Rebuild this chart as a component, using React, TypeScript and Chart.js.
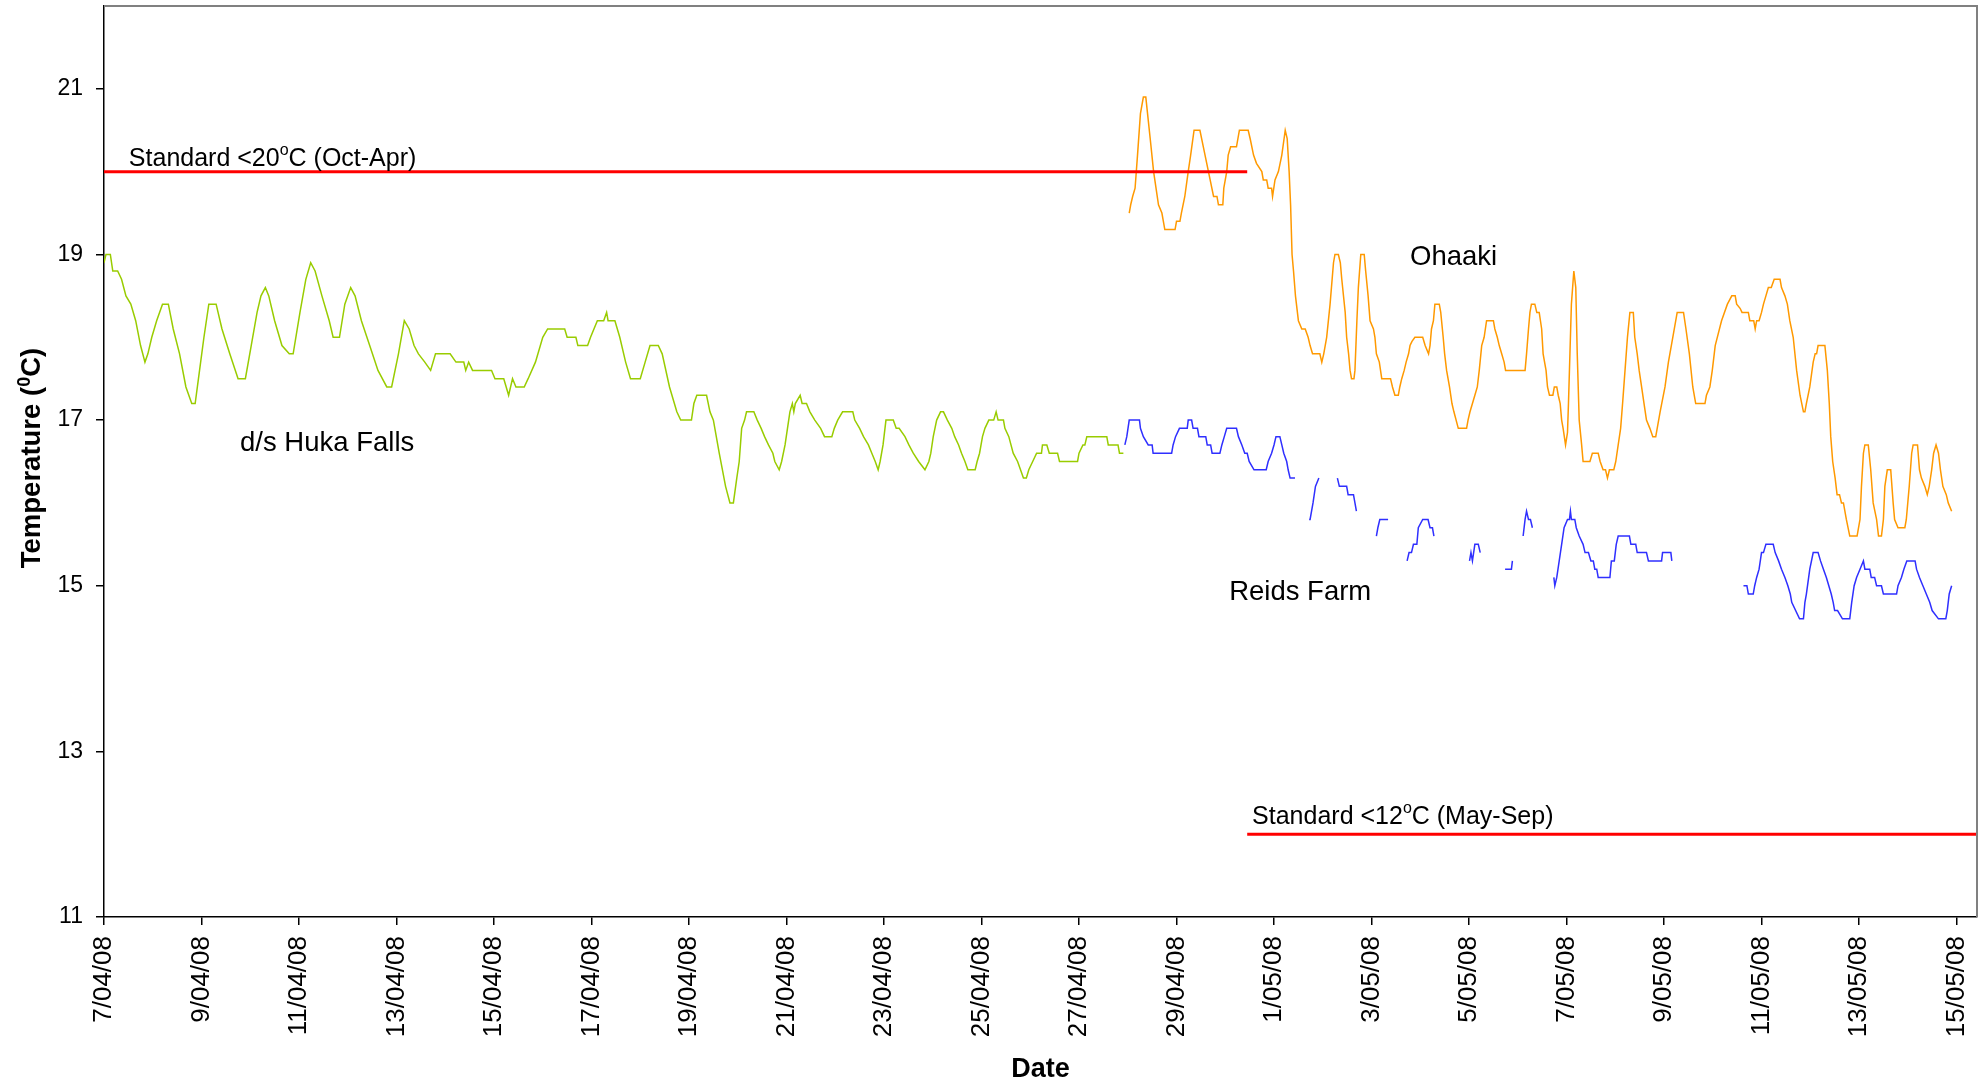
import React, { useEffect, useRef } from "react";
import { Chart, registerables } from "chart.js";

Chart.register(...registerables);

const FONT = '"Liberation Sans", Arial, Helvetica, sans-serif';

// x positions are days since 7/04/08 00:00
const X_MIN = 0;
const X_MAX = 38.42;

const tickDays = [0, 2, 4, 6, 8, 10, 12, 14, 16, 18, 20, 22, 24, 26, 28, 30, 32, 34, 36, 38];
const tickLabels = [
  "7/04/08", "9/04/08", "11/04/08", "13/04/08", "15/04/08", "17/04/08", "19/04/08",
  "21/04/08", "23/04/08", "25/04/08", "27/04/08", "29/04/08", "1/05/08", "3/05/08",
  "5/05/08", "7/05/08", "9/05/08", "11/05/08", "13/05/08", "15/05/08",
];
const tempTicks = [11, 13, 15, 17, 19, 21];

// d/s Huka Falls
const hukaDays = [
  0.0, 0.04, 0.13, 0.18, 0.28, 0.36, 0.45, 0.55, 0.65, 0.75, 0.84, 0.9, 0.98, 1.08, 1.2, 1.32,
  1.42, 1.55, 1.68, 1.8, 1.87, 1.96, 2.05, 2.15, 2.3, 2.42, 2.58, 2.75, 2.9, 3.02, 3.14, 3.22,
  3.31, 3.38, 3.5, 3.65, 3.8, 3.88, 4.02, 4.14, 4.24, 4.33, 4.47, 4.62, 4.7, 4.83, 4.94, 5.06,
  5.15, 5.28, 5.45, 5.62, 5.8, 5.9, 6.04, 6.16, 6.26, 6.36, 6.45, 6.58, 6.7, 6.8, 7.1, 7.22,
  7.38, 7.42, 7.48, 7.56, 7.95, 8.02, 8.2, 8.3, 8.38, 8.45, 8.62, 8.7, 8.85, 9.0, 9.1, 9.45,
  9.5, 9.68, 9.72, 9.92, 9.98, 10.12, 10.25, 10.31, 10.34, 10.48, 10.58, 10.7, 10.8, 11.0, 11.1, 11.2,
  11.37, 11.45, 11.6, 11.75, 11.83, 12.05, 12.1, 12.16, 12.36, 12.43, 12.5, 12.62, 12.75, 12.84, 12.91, 12.98,
  13.03, 13.08, 13.14, 13.18, 13.33, 13.4, 13.48, 13.55, 13.63, 13.72, 13.76, 13.85, 13.9, 13.97, 14.02, 14.07,
  14.12, 14.15, 14.18, 14.28, 14.32, 14.41, 14.48, 14.58, 14.7, 14.78, 14.93, 14.98, 15.05, 15.15, 15.36, 15.4,
  15.5, 15.58, 15.68, 15.75, 15.82, 15.88, 15.92, 15.98, 16.04, 16.19, 16.25, 16.31, 16.43, 16.51, 16.6, 16.71,
  16.84, 16.92, 16.96, 17.01, 17.08, 17.16, 17.22, 17.3, 17.39, 17.45, 17.53, 17.59, 17.66, 17.72, 17.87, 17.91,
  17.96, 18.02, 18.07, 18.15, 18.25, 18.3, 18.34, 18.45, 18.48, 18.56, 18.65, 18.74, 18.8, 18.86, 18.92, 18.97,
  19.05, 19.13, 19.23, 19.25, 19.34, 19.39, 19.56, 19.6, 19.97, 20.0, 20.08, 20.12, 20.16, 20.57, 20.6, 20.8,
  20.83, 20.91,
];
const hukaTemps = [
  18.9, 19.0, 19.0, 18.8, 18.8, 18.7, 18.5, 18.4, 18.2, 17.9, 17.7, 17.8, 18.0, 18.2, 18.4, 18.4,
  18.1, 17.8, 17.4, 17.2, 17.2, 17.6, 18.0, 18.4, 18.4, 18.1, 17.8, 17.5, 17.5, 17.9, 18.3, 18.5,
  18.6, 18.5, 18.2, 17.9, 17.8, 17.8, 18.3, 18.7, 18.9, 18.8, 18.5, 18.2, 18.0, 18.0, 18.4, 18.6,
  18.5, 18.2, 17.9, 17.6, 17.4, 17.4, 17.8, 18.2, 18.1, 17.9, 17.8, 17.7, 17.6, 17.8, 17.8, 17.7,
  17.7, 17.6, 17.7, 17.6, 17.6, 17.5, 17.5, 17.3, 17.5, 17.4, 17.4, 17.5, 17.7, 18.0, 18.1, 18.1,
  18.0, 18.0, 17.9, 17.9, 18.0, 18.2, 18.2, 18.3, 18.2, 18.2, 18.0, 17.7, 17.5, 17.5, 17.7, 17.9,
  17.9, 17.8, 17.4, 17.1, 17.0, 17.0, 17.2, 17.3, 17.3, 17.1, 17.0, 16.6, 16.2, 16.0, 16.0, 16.3,
  16.5, 16.9, 17.0, 17.1, 17.1, 17.0, 16.9, 16.8, 16.7, 16.6, 16.5, 16.4, 16.5, 16.7, 16.9, 17.1,
  17.2, 17.1, 17.2, 17.3, 17.2, 17.2, 17.1, 17.0, 16.9, 16.8, 16.8, 16.9, 17.0, 17.1, 17.1, 17.0,
  16.9, 16.8, 16.7, 16.6, 16.5, 16.4, 16.5, 16.7, 17.0, 17.0, 16.9, 16.9, 16.8, 16.7, 16.6, 16.5,
  16.4, 16.5, 16.6, 16.8, 17.0, 17.1, 17.1, 17.0, 16.9, 16.8, 16.7, 16.6, 16.5, 16.4, 16.4, 16.5,
  16.6, 16.8, 16.9, 17.0, 17.0, 17.1, 17.0, 17.0, 16.9, 16.8, 16.6, 16.5, 16.4, 16.3, 16.3, 16.4,
  16.5, 16.6, 16.6, 16.7, 16.7, 16.6, 16.6, 16.5, 16.5, 16.6, 16.7, 16.7, 16.8, 16.8, 16.7, 16.7,
  16.6, 16.6,
];

// Ohaaki
const ohaakiDays = [
  21.03, 21.06, 21.1, 21.15, 21.2, 21.26, 21.32, 21.37, 21.46, 21.53, 21.63, 21.7, 21.76, 21.97, 22.0, 22.07,
  22.1, 22.17, 22.24, 22.29, 22.36, 22.48, 22.55, 22.62, 22.69, 22.76, 22.83, 22.86, 22.95, 22.97, 23.03, 23.06,
  23.11, 23.23, 23.29, 23.47, 23.51, 23.58, 23.64, 23.75, 23.78, 23.85, 23.88, 23.95, 23.97, 24.02, 24.09, 24.16,
  24.23, 24.27, 24.31, 24.34, 24.37, 24.4, 24.44, 24.5, 24.57, 24.64, 24.7, 24.74, 24.79, 24.94, 24.98, 25.02,
  25.08, 25.15, 25.22, 25.25, 25.32, 25.36, 25.39, 25.46, 25.49, 25.53, 25.56, 25.59, 25.64, 25.66, 25.7, 25.73,
  25.78, 25.85, 25.88, 25.93, 25.97, 26.04, 26.07, 26.1, 26.16, 26.21, 26.39, 26.43, 26.48, 26.55, 26.58, 26.62,
  26.67, 26.71, 26.76, 26.79, 26.83, 26.89, 27.05, 27.1, 27.17, 27.2, 27.23, 27.27, 27.3, 27.39, 27.42, 27.47,
  27.5, 27.54, 27.6, 27.65, 27.69, 27.78, 27.95, 27.98, 28.02, 28.07, 28.12, 28.17, 28.21, 28.26, 28.31, 28.36,
  28.5, 28.53, 28.58, 28.62, 28.67, 28.72, 28.75, 29.15, 29.18, 29.22, 29.25, 29.28, 29.35, 29.39, 29.44, 29.49,
  29.52, 29.58, 29.61, 29.65, 29.72, 29.75, 29.8, 29.83, 29.87, 29.9, 29.93, 29.98, 30.02, 30.04, 30.07, 30.1,
  30.15, 30.19, 30.22, 30.26, 30.31, 30.34, 30.48, 30.53, 30.65, 30.69, 30.75, 30.8, 30.84, 30.88, 30.97, 31.01,
  31.06, 31.11, 31.15, 31.2, 31.25, 31.3, 31.37, 31.4, 31.45, 31.49, 31.54, 31.59, 31.64, 31.71, 31.77, 31.83,
  31.86, 31.92, 32.02, 32.09, 32.18, 32.27, 32.4, 32.45, 32.52, 32.59, 32.65, 32.84, 32.87, 32.94, 32.99, 33.05,
  33.18, 33.3, 33.39, 33.46, 33.49, 33.56, 33.6, 33.73, 33.76, 33.84, 33.87, 33.9, 33.95, 34.0, 34.04, 34.09,
  34.14, 34.2, 34.26, 34.38, 34.41, 34.48, 34.53, 34.58, 34.65, 34.72, 34.79, 34.86, 34.89, 34.92, 34.99, 35.06,
  35.1, 35.13, 35.16, 35.3, 35.35, 35.39, 35.42, 35.46, 35.51, 35.55, 35.6, 35.64, 35.68, 35.74, 35.81, 35.96,
  36.02, 36.05, 36.09, 36.12, 36.19, 36.24, 36.29, 36.36, 36.4, 36.46, 36.5, 36.53, 36.58, 36.65, 36.7, 36.73,
  36.8, 36.94, 36.97, 37.03, 37.08, 37.11, 37.2, 37.24, 37.28, 37.35, 37.4, 37.44, 37.49, 37.53, 37.58, 37.63,
  37.67, 37.72, 37.79, 37.83, 37.9,
];
const ohaakiTemps = [
  19.5, 19.6, 19.7, 19.8, 20.2, 20.7, 20.9, 20.9, 20.4, 20.0, 19.6, 19.5, 19.3, 19.3, 19.4, 19.4,
  19.5, 19.7, 20.0, 20.2, 20.5, 20.5, 20.3, 20.1, 19.9, 19.7, 19.7, 19.6, 19.6, 19.8, 20.0, 20.2,
  20.3, 20.3, 20.5, 20.5, 20.4, 20.2, 20.1, 20.0, 19.9, 19.9, 19.8, 19.8, 19.7, 19.9, 20.0, 20.2,
  20.5, 20.4, 20.0, 19.6, 19.0, 18.8, 18.5, 18.2, 18.1, 18.1, 18.0, 17.9, 17.8, 17.8, 17.7, 17.8,
  18.0, 18.4, 18.9, 19.0, 19.0, 18.9, 18.7, 18.3, 18.0, 17.8, 17.6, 17.5, 17.5, 17.6, 18.2, 18.6,
  19.0, 19.0, 18.8, 18.5, 18.2, 18.1, 18.0, 17.8, 17.7, 17.5, 17.5, 17.4, 17.3, 17.3, 17.4, 17.5,
  17.6, 17.7, 17.8, 17.9, 17.95, 18.0, 18.0, 17.9, 17.8, 17.9, 18.1, 18.2, 18.4, 18.4, 18.3, 18.0,
  17.8, 17.6, 17.4, 17.2, 17.1, 16.9, 16.9, 17.0, 17.1, 17.2, 17.3, 17.4, 17.6, 17.9, 18.0, 18.2,
  18.2, 18.1, 18.0, 17.9, 17.8, 17.7, 17.6, 17.6, 17.8, 18.1, 18.3, 18.4, 18.4, 18.3, 18.3, 18.1,
  17.8, 17.6, 17.4, 17.3, 17.3, 17.4, 17.4, 17.3, 17.2, 17.0, 16.9, 16.7, 16.85, 17.2, 17.8, 18.4,
  18.8, 18.6, 17.8, 17.0, 16.7, 16.5, 16.5, 16.6, 16.6, 16.5, 16.4, 16.4, 16.3, 16.4, 16.4, 16.5,
  16.7, 16.9, 17.2, 17.6, 18.0, 18.3, 18.3, 18.0, 17.8, 17.6, 17.4, 17.2, 17.0, 16.9, 16.8, 16.8,
  16.9, 17.1, 17.4, 17.7, 18.0, 18.3, 18.3, 18.1, 17.8, 17.4, 17.2, 17.2, 17.3, 17.4, 17.6, 17.9,
  18.2, 18.4, 18.5, 18.5, 18.4, 18.35, 18.3, 18.3, 18.2, 18.2, 18.1, 18.2, 18.2, 18.3, 18.4, 18.5,
  18.6, 18.6, 18.7, 18.7, 18.6, 18.5, 18.4, 18.2, 18.0, 17.6, 17.3, 17.1, 17.1, 17.2, 17.4, 17.7,
  17.8, 17.8, 17.9, 17.9, 17.6, 17.2, 16.8, 16.5, 16.3, 16.1, 16.1, 16.0, 16.0, 15.8, 15.6, 15.6,
  15.8, 16.2, 16.6, 16.7, 16.7, 16.4, 16.0, 15.8, 15.6, 15.6, 15.8, 16.2, 16.4, 16.4, 16.0, 15.8,
  15.7, 15.7, 15.8, 16.2, 16.6, 16.7, 16.7, 16.4, 16.3, 16.2, 16.1, 16.2, 16.4, 16.6, 16.7, 16.6,
  16.4, 16.2, 16.1, 16.0, 15.9,
];

// Reids Farm (null marks a gap in the logger record)
const reidsDays = [
  20.94, 20.98, 21.03, 21.24, 21.26, 21.32, 21.42, 21.5, 21.52, 21.9, 21.93, 21.98, 22.06, 22.22, 22.24, 22.31,
  22.34, 22.43, 22.46, 22.6, 22.63, 22.7, 22.73, 22.89, 22.93, 22.98, 23.03, 23.23, 23.27, 23.34, 23.4, 23.45,
  23.49, 23.59, 23.84, 23.88, 23.95, 24.0, 24.04, 24.12, 24.16, 24.2, 24.26, 24.29, 24.33, 24.43, 24.58,
  24.72, 24.74, 24.8, 24.85, 24.92, 25.1,
  25.3, 25.34, 25.49, 25.52, 25.63, 25.66, 25.69, 25.9,
  26.1, 26.13, 26.17, 26.21, 26.34, 26.5,
  26.73, 26.77, 26.82, 26.86, 26.93, 26.96, 27.05, 27.16, 27.2, 27.25, 27.28, 27.6,
  28.01, 28.04, 28.07, 28.12, 28.19, 28.23, 28.5,
  28.74, 28.87, 28.89, 29.0,
  29.11, 29.15, 29.18, 29.22, 29.26, 29.3, 29.5,
  29.74, 29.76, 29.8, 29.85, 29.9, 29.95, 30.02, 30.06, 30.08, 30.1, 30.17, 30.2, 30.26, 30.34, 30.38, 30.45,
  30.5, 30.55, 30.58, 30.62, 30.65, 30.89, 30.92, 30.98, 31.02, 31.06, 31.29, 31.32, 31.42, 31.45, 31.64, 31.68,
  31.95, 31.97, 32.14, 32.16, 32.9,
  33.63, 33.7, 33.73, 33.83, 33.86, 33.9, 33.95, 34.0, 34.04, 34.09, 34.24, 34.28, 34.35, 34.41, 34.48, 34.54,
  34.59, 34.62, 34.78, 34.86, 34.89, 34.92, 34.99, 35.06, 35.16, 35.21, 35.27, 35.33, 35.38, 35.43, 35.47, 35.5,
  35.56, 35.66, 35.81, 35.85, 35.9, 35.95, 36.02, 36.09, 36.12, 36.22, 36.25, 36.32, 36.36, 36.46, 36.5, 36.77,
  36.8, 36.87, 36.92, 36.98, 37.15, 37.18, 37.24, 37.31, 37.38, 37.45, 37.5, 37.63, 37.78, 37.81, 37.85, 37.9,
];
const reidsTemps = [
  16.7, 16.8, 17.0, 17.0, 16.9, 16.8, 16.7, 16.7, 16.6, 16.6, 16.7, 16.8, 16.9, 16.9, 17.0, 17.0,
  16.9, 16.9, 16.8, 16.8, 16.7, 16.7, 16.6, 16.6, 16.7, 16.8, 16.9, 16.9, 16.8, 16.7, 16.6, 16.6,
  16.5, 16.4, 16.4, 16.5, 16.6, 16.7, 16.8, 16.8, 16.7, 16.6, 16.5, 16.4, 16.3, 16.3, null,
  15.8, 15.8, 16.0, 16.2, 16.3, null,
  16.3, 16.2, 16.2, 16.1, 16.1, 16.0, 15.9, null,
  15.6, 15.7, 15.8, 15.8, 15.8, null,
  15.3, 15.4, 15.4, 15.5, 15.5, 15.7, 15.8, 15.8, 15.7, 15.7, 15.6, null,
  15.3, 15.4, 15.3, 15.5, 15.5, 15.4, null,
  15.2, 15.2, 15.3, null,
  15.6, 15.8, 15.9, 15.8, 15.8, 15.7, null,
  15.1, 15.0, 15.1, 15.3, 15.5, 15.7, 15.8, 15.8, 15.9, 15.8, 15.8, 15.7, 15.6, 15.5, 15.4, 15.4,
  15.3, 15.3, 15.2, 15.2, 15.1, 15.1, 15.3, 15.3, 15.5, 15.6, 15.6, 15.5, 15.5, 15.4, 15.4, 15.3,
  15.3, 15.4, 15.4, 15.3, null,
  15.0, 15.0, 14.9, 14.9, 15.0, 15.1, 15.2, 15.4, 15.4, 15.5, 15.5, 15.4, 15.3, 15.2, 15.1, 15.0,
  14.9, 14.8, 14.6, 14.6, 14.8, 14.9, 15.2, 15.4, 15.4, 15.3, 15.2, 15.1, 15.0, 14.9, 14.8, 14.7,
  14.7, 14.6, 14.6, 14.8, 15.0, 15.1, 15.2, 15.3, 15.2, 15.2, 15.1, 15.1, 15.0, 15.0, 14.9, 14.9,
  15.0, 15.1, 15.2, 15.3, 15.3, 15.2, 15.1, 15.0, 14.9, 14.8, 14.7, 14.6, 14.6, 14.7, 14.9, 15.0,
];

// Water temperature standards: summer limit runs to the end of April, winter limit from May
const SEASON_SWITCH = 23.45;
const summerStdDays = [X_MIN, SEASON_SWITCH];
const summerStdTemps = [20, 20];
const winterStdDays = [SEASON_SWITCH, X_MAX];
const winterStdTemps = [12, 12];

// Text placed inside the plot: anchor given in axis units (day, °C) of the left baseline
const standardNotes = [
  { lead: "Standard <20", sup: "o", tail: "C (Oct-Apr)", day: 0.51, temp: 20, lift: 6 },
  { lead: "Standard <12", sup: "o", tail: "C (May-Sep)", day: 23.55, temp: 12, lift: 10 },
];
const siteNotes = [
  { text: "d/s Huka Falls", day: 2.79, temp: 16.63 },
  { text: "Ohaaki", day: 26.79, temp: 18.87 },
  { text: "Reids Farm", day: 23.08, temp: 14.83 },
];

const toPoints = (days: number[], temps: (number | null)[]) =>
  days.map((d, i) => ({ x: d, y: temps[i] }));

type Run = { text: string; size: number; bold?: boolean; rise?: number };

function drawRuns(ctx: CanvasRenderingContext2D, runs: Run[], x: number, y: number, center: boolean) {
  const fontOf = (r: Run) => `${r.bold ? "bold " : ""}${r.size}px ${FONT}`;
  let total = 0;
  for (const r of runs) {
    ctx.font = fontOf(r);
    total += ctx.measureText(r.text).width;
  }
  let cx = center ? x - total / 2 : x;
  ctx.textAlign = "left";
  ctx.textBaseline = "alphabetic";
  for (const r of runs) {
    ctx.font = fontOf(r);
    ctx.fillText(r.text, cx, y - (r.rise || 0));
    cx += ctx.measureText(r.text).width;
  }
}

const decorations = {
  id: "decorations",
  afterDraw(chart: any) {
    const { ctx, chartArea: a, scales } = chart;
    const xs = scales.x;
    const ys = scales.y;
    ctx.save();

    // plot frame on the top and right
    ctx.strokeStyle = "#808080";
    ctx.lineWidth = 2;
    ctx.beginPath();
    ctx.moveTo(a.left, a.top);
    ctx.lineTo(a.right, a.top);
    ctx.lineTo(a.right, a.bottom);
    ctx.stroke();

    ctx.fillStyle = "#000";
    for (const n of standardNotes) {
      const px = xs.getPixelForValue(n.day);
      const py = ys.getPixelForValue(n.temp) - n.lift;
      drawRuns(ctx, [
        { text: n.lead, size: 25 },
        { text: n.sup, size: 16, rise: 11 },
        { text: n.tail, size: 25 },
      ], px, py, false);
    }
    for (const n of siteNotes) {
      drawRuns(ctx, [{ text: n.text, size: 27.5 }], xs.getPixelForValue(n.day), ys.getPixelForValue(n.temp), false);
    }

    // axis titles
    drawRuns(ctx, [{ text: "Date", size: 27, bold: true }], (a.left + a.right) / 2, 1077, true);
    ctx.translate(40, 458);
    ctx.rotate(-Math.PI / 2);
    drawRuns(ctx, [
      { text: "Temperature (", size: 27.5, bold: true },
      { text: "0", size: 18, bold: true, rise: 10 },
      { text: "C)", size: 27.5, bold: true },
    ], 0, 0, true);
    ctx.restore();
  },
};

export default function App() {
  const canvasRef = useRef<HTMLCanvasElement>(null);

  useEffect(() => {
    if (!canvasRef.current) return;
    const line = (label: string, data: any[], color: string, width: number, order: number) => ({
      label,
      data,
      borderColor: color,
      backgroundColor: color,
      borderWidth: width,
      pointRadius: 0,
      tension: 0,
      spanGaps: false,
      fill: false,
      order,
    });

    const chart = new Chart(canvasRef.current, {
      type: "line",
      data: {
        datasets: [
          line("Standard <20°C (Oct-Apr)", toPoints(summerStdDays, summerStdTemps), "#ff0000", 3, 0),
          line("Standard <12°C (May-Sep)", toPoints(winterStdDays, winterStdTemps), "#ff0000", 3, 0),
          line("d/s Huka Falls", toPoints(hukaDays, hukaTemps), "#99cc00", 1.5, 1),
          line("Ohaaki", toPoints(ohaakiDays, ohaakiTemps), "#ff9900", 1.5, 1),
          line("Reids Farm", toPoints(reidsDays, reidsTemps), "#2f2fff", 1.5, 1),
        ],
      },
      options: {
        responsive: false,
        animation: false,
        events: [],
        layout: { padding: { top: 6, right: 9, left: 0, bottom: 0 } },
        plugins: {
          legend: { display: false },
          tooltip: { enabled: false },
        },
        scales: {
          x: {
            type: "linear",
            min: X_MIN,
            max: X_MAX,
            afterBuildTicks: (scale: any) => {
              scale.ticks = tickDays.map((v) => ({ value: v }));
            },
            afterFit: (scale: any) => {
              scale.height = 168;
              scale.paddingLeft = 0;
              scale.paddingRight = 0;
            },
            ticks: {
              autoSkip: false,
              maxRotation: 90,
              minRotation: 90,
              padding: 11,
              color: "#000",
              font: { family: FONT, size: 26 },
              callback: (_v: any, i: number) => tickLabels[i],
            },
            grid: {
              drawOnChartArea: false,
              drawTicks: true,
              tickLength: 8,
              color: "#000",
              lineWidth: 1.5,
            },
            border: { display: true, color: "#000", width: 1.5 },
          },
          y: {
            type: "linear",
            min: 11,
            max: 22,
            afterBuildTicks: (scale: any) => {
              scale.ticks = tempTicks.map((v) => ({ value: v }));
            },
            afterFit: (scale: any) => {
              scale.width = 104;
              scale.paddingTop = 0;
              scale.paddingBottom = 0;
            },
            ticks: {
              padding: 13,
              color: "#000",
              font: { family: FONT, size: 23 },
              callback: (v: any) => String(v),
            },
            grid: {
              drawOnChartArea: false,
              drawTicks: true,
              tickLength: 8,
              color: "#000",
              lineWidth: 1.5,
            },
            border: { display: true, color: "#000", width: 1.5 },
          },
        },
      },
      plugins: [decorations],
    } as any);
    return () => chart.destroy();
  }, []);

  return (
    <div style={{ position: "fixed", left: 0, top: 0, width: 1986, height: 1085, background: "#fff" }}>
      <canvas ref={canvasRef} width={1986} height={1085} style={{ display: "block", width: 1986, height: 1085 }} />
    </div>
  );
}
